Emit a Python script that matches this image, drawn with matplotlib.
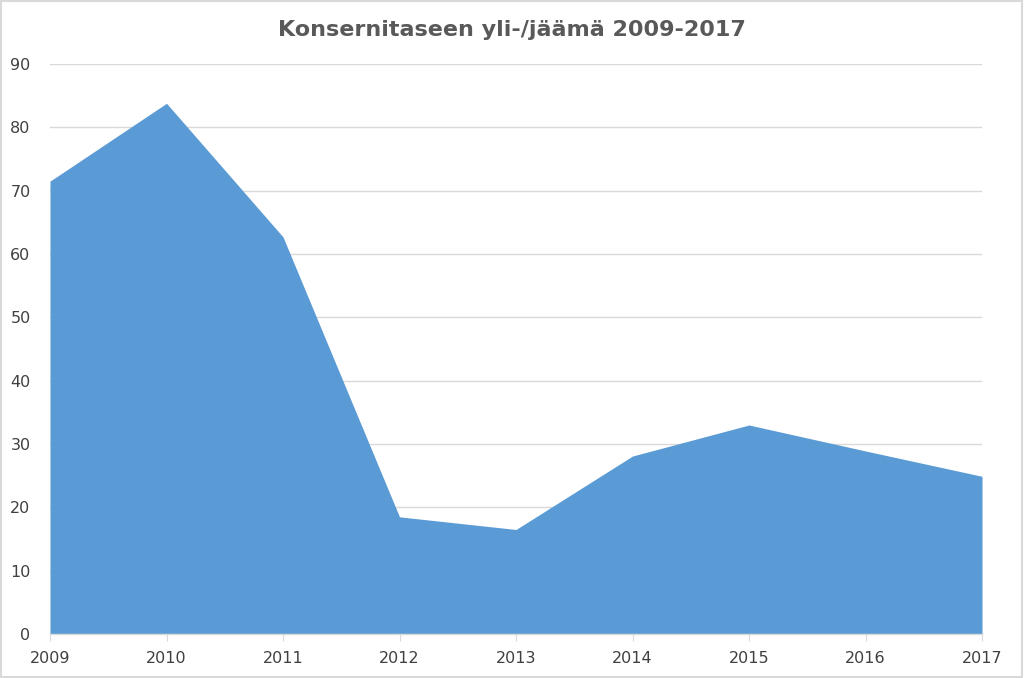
import matplotlib
matplotlib.use("Agg")
import matplotlib.pyplot as plt
from matplotlib.patches import Rectangle

years = [2009, 2010, 2011, 2012, 2013, 2014, 2015, 2016, 2017]
values = [71.5, 83.8, 62.7, 18.5, 16.5, 28.1, 33.0, 28.9, 24.9]
yticks = [0, 10, 20, 30, 40, 50, 60, 70, 80, 90]
title = "Konsernitaseen yli-/jäämä 2009-2017"

plt.rcParams['font.family'] = ['DejaVu Sans']

fig = plt.figure(figsize=(10.24, 6.78), dpi=100)
ax = fig.add_axes([50/1024, 44/678, 932/1024, 570/678])

ax.fill_between(years, values, 0, color="#5B9BD5", linewidth=0, zorder=2)

ax.set_xlim(years[0], years[-1])
ax.set_ylim(0, 90)
ax.set_yticks(yticks)
ax.set_xticks(years)
ax.set_xticklabels([str(y) for y in years])
ax.grid(axis='y', color="#D9D9D9", linewidth=1, zorder=0)
ax.set_axisbelow(True)

for s in ['top', 'right', 'left']:
    ax.spines[s].set_visible(False)
ax.spines['bottom'].set_color("#D9D9D9")
ax.spines['bottom'].set_linewidth(1)
ax.spines['bottom'].set_zorder(3)

ax.tick_params(axis='y', length=0, pad=14, labelsize=11.5, labelcolor="#404040")
ax.tick_params(axis='x', length=5, color="#D9D9D9", pad=7, labelsize=11.5, labelcolor="#404040")

fig.text(0.5, 1 - 30/678, title, ha='center', va='center', fontsize=16,
         fontweight='bold', color="#595959")

fig.patches.append(Rectangle((0.001, 0.001), 0.997, 0.997, transform=fig.transFigure,
                             fill=False, edgecolor="#D9D9D9", linewidth=1.5))

fig.savefig("out.png", dpi=100)
